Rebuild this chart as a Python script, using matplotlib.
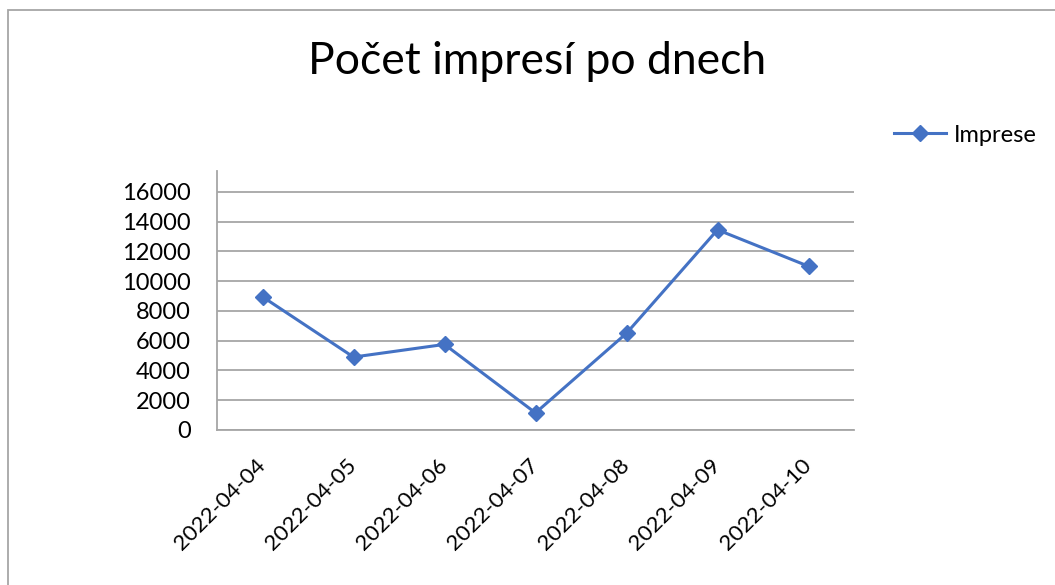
import matplotlib
matplotlib.use("Agg")
import matplotlib.pyplot as plt
from matplotlib.patches import Rectangle

dates = ["2022-04-04", "2022-04-05", "2022-04-06", "2022-04-07",
         "2022-04-08", "2022-04-09", "2022-04-10"]
imprese = [8950, 4900, 5750, 1150, 6500, 13450, 11000]
yticks = [0, 2000, 4000, 6000, 8000, 10000, 12000, 14000, 16000]

plt.rcParams['font.family'] = ['Lato', 'DejaVu Sans']

W, H = 1055, 585
fig = plt.figure(figsize=(W / 100, H / 100), dpi=100)
fig.patch.set_facecolor('white')

# chart area border
fig.add_artist(Rectangle((8 / W, -0.1), 1.2, 1 - 10 / H + 0.1,
                         transform=fig.transFigure, fill=False,
                         edgecolor='#a6a6a6', linewidth=1.3))

ax = fig.add_axes([217 / W, (H - 430) / H, (854 - 217) / W, (430 - 171) / H])
x = list(range(len(dates)))
ax.plot(x, imprese, color='#4472C4', linewidth=2.2, marker='D',
        markersize=8, label='Imprese', zorder=3)

ax.set_xlim(-0.5, len(dates) - 0.5)
ax.set_ylim(0, 17400)
ax.set_yticks(yticks)
ax.set_yticklabels([str(v) for v in yticks], fontsize=17)
ax.set_xticks(x)
ax.set_xticklabels(dates, fontsize=16, rotation=45, ha='right',
                   va='center', rotation_mode='anchor')
ax.tick_params(axis='both', length=0)
ax.tick_params(axis='y', pad=19)
ax.tick_params(axis='x', pad=23)
ax.grid(axis='y', color='#a6a6a6', linewidth=1.3)
ax.set_axisbelow(True)
for s in ['top', 'right']:
    ax.spines[s].set_visible(False)
for s in ['left', 'bottom']:
    ax.spines[s].set_color('#a6a6a6')
    ax.spines[s].set_linewidth(1.3)

fig.text(537 / W, 1 - 62 / H, 'Počet impresí po dnech', fontsize=32,
         ha='center', va='center')

fig.legend(loc='center left', bbox_to_anchor=(885 / W, 1 - 135 / H),
           frameon=False, fontsize=17, handlelength=2.2, handletextpad=0.3,
           borderaxespad=0)

fig.savefig('out.png', dpi=100)
